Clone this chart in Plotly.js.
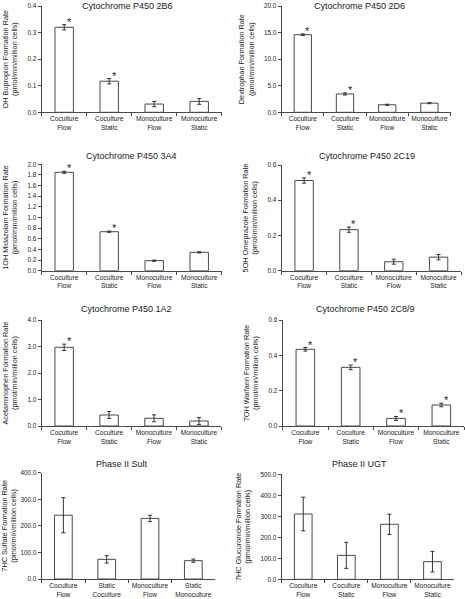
<!DOCTYPE html>
<html>
<head>
<meta charset="utf-8">
<script src="https://cdn.plot.ly/plotly-3.0.1.min.js"></script>
<style>html,body{margin:0;padding:0;background:#fff;}#chart{width:465px;height:599px;}</style>
</head>
<body>
<div id="chart"></div>
<script>
// ---------------- DATA ----------------
const catsStd = ['Coculture<br>Flow', 'Coculture<br>Static', 'Monoculture<br>Flow', 'Monoculture<br>Static'];
const catsSult = ['Coculture<br>Flow', 'Static<br>Coculture', 'Monoculture<br>Flow', 'Static<br>Monoculture'];

const title2B6 = 'Cytochrome P450 2B6';
const yTitle2B6 = 'OH Bupropion Formation Rate<br>(pmol/min/million cells)';
const vals2B6 = [0.320, 0.117, 0.031, 0.041];
const errs2B6 = [0.010, 0.010, 0.010, 0.011];
const stars2B6 = [1, 1, 0, 0];

const title2D6 = 'Cytochrome P450 2D6';
const yTitle2D6 = 'Dextrophan Formation Rate<br>(pmol/min/million cells)';
const vals2D6 = [14.6, 3.45, 1.42, 1.72];
const errs2D6 = [0.15, 0.20, 0.10, 0.10];
const stars2D6 = [1, 1, 0, 0];

const title3A4 = 'Cytochrome P450 3A4';
const yTitle3A4 = '1OH Midazolam Formation Rate<br>(pmol/min/million cells)';
const vals3A4 = [1.85, 0.733, 0.188, 0.345];
const errs3A4 = [0.02, 0.012, 0.012, 0.012];
const stars3A4 = [1, 1, 0, 0];

const title2C19 = 'Cytochrome P450 2C19';
const yTitle2C19 = '5OH Omeprazole Formation Rate<br>(pmol/min/million cells)';
const vals2C19 = [0.512, 0.233, 0.051, 0.077];
const errs2C19 = [0.015, 0.015, 0.014, 0.015];
const stars2C19 = [1, 1, 0, 0];

const title1A2 = 'Cytochrome P450 1A2';
const yTitle1A2 = 'Acetaminophen Formation Rate<br>(pmol/min/million cells)';
const vals1A2 = [2.97, 0.415, 0.29, 0.19];
const errs1A2 = [0.12, 0.13, 0.13, 0.13];
const stars1A2 = [1, 0, 0, 0];

const title2C89 = 'Cytochrome P450 2C8/9';
const yTitle2C89 = '7OH Warfarin Formation Rate<br>(pmol/min/million cells)';
const vals2C89 = [0.434, 0.332, 0.043, 0.119];
const errs2C89 = [0.010, 0.013, 0.011, 0.010];
const stars2C89 = [1, 1, 1, 1];

const titleSult = 'Phase II Sult';
const yTitleSult = '7HC Sulfate Formation Rate<br>(pmol/min/million cells)';
const valsSult = [240, 74, 228, 69];
const errsSult = [66, 14, 12, 6];
const starsSult = [0, 0, 0, 0];

const titleUGT = 'Phase II UGT';
const yTitleUGT = '7HC Glucuronide Formation Rate<br>(pmol/min/million cells)';
const valsUGT = [311, 114, 262, 84];
const errsUGT = [80, 62, 48, 49];
const starsUGT = [0, 0, 0, 0];

// ---------------- LAYOUT (pixel boxes) ----------------
const W = 465, H = 599;
const panels = [
  {cats: catsStd,  title: title2B6,  yTitle: yTitle2B6,  vals: vals2B6,  errs: errs2B6,  stars: stars2B6,  ymax: 0.4, dtick: 0.1, box: [41.7, 221.7, 6, 112.3],   tx: 127, ty: 6},
  {cats: catsStd,  title: title2D6,  yTitle: yTitle2D6,  vals: vals2D6,  errs: errs2D6,  stars: stars2D6,  ymax: 20,  dtick: 5,   box: [281.7, 450.5, 6, 112.3],  tx: 359, ty: 6},
  {cats: catsStd,  title: title3A4,  yTitle: yTitle3A4,  vals: vals3A4,  errs: errs3A4,  stars: stars3A4,  ymax: 2.0, dtick: 0.2, box: [41.7, 221.7, 164.3, 270.7], tx: 131, ty: 155.5},
  {cats: catsStd,  title: title2C19, yTitle: yTitle2C19, vals: vals2C19, errs: errs2C19, stars: stars2C19, ymax: 0.6, dtick: 0.2, box: [281.7, 461, 165, 270.7],  tx: 366.7, ty: 155.5},
  {cats: catsStd,  title: title1A2,  yTitle: yTitle1A2,  vals: vals1A2,  errs: errs1A2,  stars: stars1A2,  ymax: 4.0, dtick: 1.0, box: [41.7, 221.4, 320, 426],   tx: 126, ty: 309},
  {cats: catsStd,  title: title2C89, yTitle: yTitle2C89, vals: vals2C89, errs: errs2C89, stars: stars2C89, ymax: 0.6, dtick: 0.2, box: [282.7, 464, 320, 426],    tx: 365.3, ty: 309},
  {cats: catsSult, title: titleSult, yTitle: yTitleSult, vals: valsSult, errs: errsSult, stars: starsSult, ymax: 400, dtick: 100, box: [41.7, 215, 472.7, 579],   tx: 122, ty: 464},
  {cats: catsStd,  title: titleUGT,  yTitle: yTitleUGT,  vals: valsUGT,  errs: errsUGT,  stars: starsUGT,  ymax: 500, dtick: 100, box: [281.7, 454, 474.3, 579.3], tx: 359.5, ty: 464}
];

const FONT = 'Arial, "Liberation Sans", sans-serif';
const TXT = '#222';
const LINE = '#4a4a4a';

const data = [];
const layout = {
  width: W, height: H,
  margin: {l: 0, r: 0, t: 0, b: 0},
  paper_bgcolor: '#fff', plot_bgcolor: '#fff',
  showlegend: false,
  font: {family: FONT, color: TXT, size: 6.6},
  annotations: []
};

panels.forEach((p, k) => {
  const n = k + 1;
  const xName = 'x' + (n === 1 ? '' : n);
  const yName = 'y' + (n === 1 ? '' : n);
  const xKey = 'xaxis' + (n === 1 ? '' : n);
  const yKey = 'yaxis' + (n === 1 ? '' : n);
  const [x0, x1, yt, yb] = p.box;

  data.push({
    type: 'bar', x: p.cats, y: p.vals, xaxis: xName, yaxis: yName,
    width: 0.41,
    marker: {color: '#ffffff', line: {color: LINE, width: 1}},
    error_y: {type: 'data', array: p.errs, visible: true, color: '#333', thickness: 1, width: 2},
    hoverinfo: 'skip'
  });

  layout[xKey] = {
    type: 'category', domain: [x0 / W, x1 / W], anchor: yName,
    showline: true, linecolor: LINE, linewidth: 1,
    ticks: 'outside', tickson: 'boundaries', ticklen: 3, tickcolor: LINE, tickwidth: 1,
    tickfont: {family: FONT, size: 6.6, color: TXT},
    showgrid: false, zeroline: false, fixedrange: true, tickangle: 0
  };
  layout[yKey] = {
    domain: [1 - yb / H, 1 - yt / H], anchor: xName,
    range: [0, p.ymax], dtick: p.dtick, tick0: 0, tickformat: '.1f',
    showline: true, linecolor: LINE, linewidth: 1,
    ticks: 'outside', ticklen: 3, tickcolor: LINE, tickwidth: 1,
    tickfont: {family: FONT, size: 6.4, color: TXT},
    showgrid: false, zeroline: false, fixedrange: true,
    title: {text: p.yTitle, font: {family: FONT, size: 7.3, color: TXT}, standoff: 8}
  };

  layout.annotations.push({
    xref: 'paper', yref: 'paper', x: p.tx / W, y: 1 - p.ty / H,
    xanchor: 'center', yanchor: 'middle', showarrow: false,
    text: p.title, font: {family: FONT, size: 9, color: TXT}
  });

  p.stars.forEach((s, i) => {
    if (!s) return;
    layout.annotations.push({
      xref: xName, yref: yName, x: i, y: p.vals[i] + p.errs[i],
      xanchor: 'center', yanchor: 'bottom', xshift: 5, yshift: -5,
      showarrow: false, text: '*', font: {family: FONT, size: 11, color: '#222'}
    });
  });
});

Plotly.newPlot('chart', data, layout, {displayModeBar: false, staticPlot: true});
</script>
</body>
</html>
